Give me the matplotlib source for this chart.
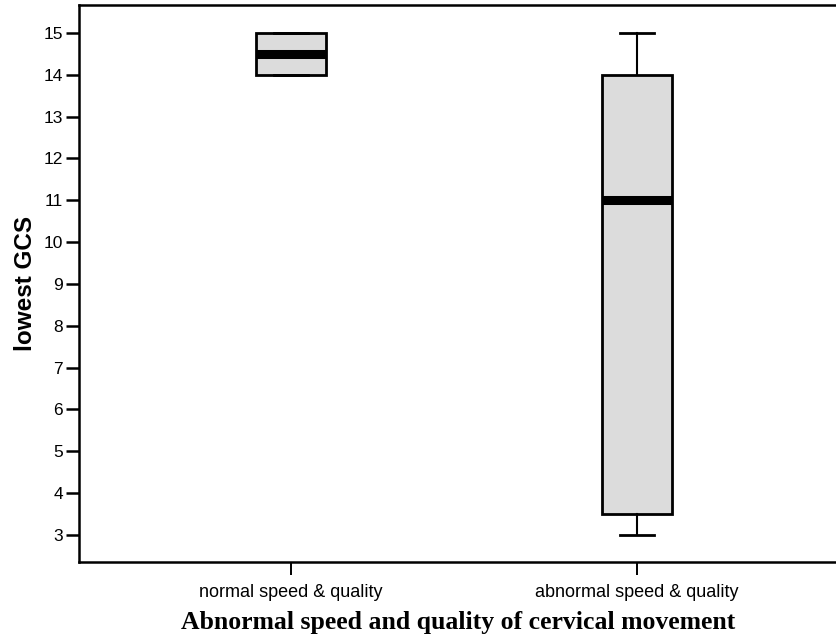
import matplotlib.pyplot as plt

# box summaries
groups = ["normal speed & quality", "abnormal speed & quality"]
whis_lo = [14, 3]
q1 = [14, 3.5]
median = [14.5, 11]
q3 = [15, 14]
whis_hi = [15, 15]

stats = []
for i, g in enumerate(groups):
    stats.append(dict(label=g, whislo=whis_lo[i], q1=q1[i], med=median[i],
                      q3=q3[i], whishi=whis_hi[i], fliers=[]))

plt.rcParams["font.family"] = ["Liberation Sans", "DejaVu Sans"]

fig = plt.figure(figsize=(8.37, 6.34), dpi=100)
ax = fig.add_axes([0.0944, 0.1136, 0.9056, 0.8785])

ax.bxp(
    stats,
    positions=[1, 2],
    widths=0.2,
    patch_artist=True,
    showfliers=False,
    capwidths=0.1,
    boxprops=dict(facecolor="#dcdcdc", edgecolor="black", linewidth=2),
    medianprops=dict(color="black", linewidth=6.5, solid_capstyle="butt"),
    whiskerprops=dict(color="black", linewidth=1.5),
    capprops=dict(color="black", linewidth=2),
)

ax.set_xlim(0.387, 2.578)
ax.set_ylim(2.35, 15.67)
ax.set_yticks(range(3, 16))

for side in ["top", "bottom", "left"]:
    ax.spines[side].set_linewidth(1.8)
ax.spines["right"].set_visible(False)

ax.tick_params(axis="y", length=9.5, width=1.8, labelsize=12.5, pad=2)
ax.tick_params(axis="x", length=9, width=1.4, labelsize=13, pad=7)

ax.set_ylabel("lowest GCS", fontsize=17.5, fontweight="bold", labelpad=5)
ax.set_xlabel("Abnormal speed and quality of cervical movement",
              fontsize=18.5, fontweight="bold", family="Liberation Serif", labelpad=7)

fig.savefig("out.png", dpi=100)
